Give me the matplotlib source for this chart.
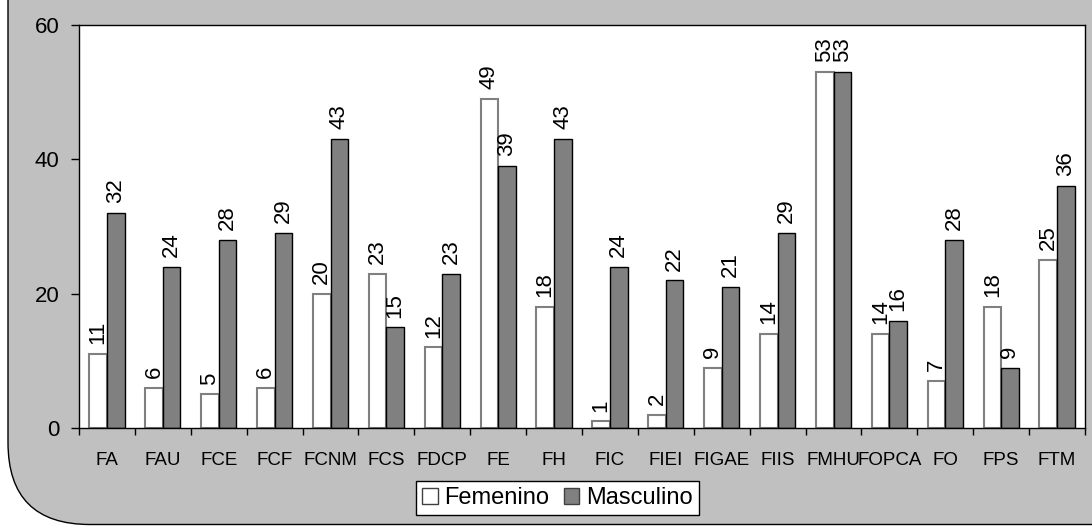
import matplotlib
matplotlib.use("Agg")
import numpy as np
import matplotlib.pyplot as plt
from matplotlib.patches import FancyBboxPatch, Patch

# data
categorias = ['FA', 'FAU', 'FCE', 'FCF', 'FCNM', 'FCS', 'FDCP', 'FE', 'FH', 'FIC',
              'FIEI', 'FIGAE', 'FIIS', 'FMHU', 'FOPCA', 'FO', 'FPS', 'FTM']
femenino = [11, 6, 5, 6, 20, 23, 12, 49, 18, 1, 2, 9, 14, 53, 14, 7, 18, 25]
masculino = [32, 24, 28, 29, 43, 15, 23, 39, 43, 24, 22, 21, 29, 53, 16, 28, 9, 36]
y_ticks = [0, 20, 40, 60]

plt.rcParams['font.family'] = ['Liberation Sans', 'DejaVu Sans']

fig = plt.figure(figsize=(10.92, 5.26), dpi=100)
W, H = 1092, 526

# grey rounded frame (cropped at top and right)
frame = FancyBboxPatch((8 / W, 1.5 / H), 1.2, 1.2,
                       boxstyle="round,pad=0,rounding_size=0.075",
                       transform=fig.transFigure, facecolor='#C0C0C0',
                       edgecolor='black', linewidth=1.0, zorder=-5,
                       mutation_aspect=W / H)
fig.patches.append(frame)

ax = fig.add_axes([79 / W, (H - 428) / H, (1085 - 79) / W, (428 - 25) / H])
ax.set_zorder(2)
ax.set_facecolor('white')

x = np.arange(len(categorias))
w = 0.316
b1 = ax.bar(x - w / 2, femenino, w, color='white', edgecolor='#808080',
            linewidth=1.5, label='Femenino', zorder=2)
b2 = ax.bar(x + w / 2, masculino, w, color='#808080', edgecolor='black',
            linewidth=1.0, label='Masculino', zorder=2)

for bars in (b1, b2):
    for bar in bars:
        h = bar.get_height()
        ax.annotate(f'{int(h)}', xy=(bar.get_x() + bar.get_width() / 2, h),
                    xytext=(0, 7), textcoords='offset points',
                    rotation=90, ha='center', va='bottom', fontsize=16,
                    annotation_clip=False)

ax.set_xlim(-0.5, len(categorias) - 0.5)
ax.set_ylim(0, 60)
ax.set_yticks(y_ticks)
ax.tick_params(axis='y', length=6, width=1, direction='out', pad=8, labelsize=16)

ax.set_xticks(x)
ax.set_xticklabels(categorias, fontsize=13.5)
ax.set_xticks(np.arange(len(categorias) + 1) - 0.5, minor=True)
ax.tick_params(axis='x', which='major', length=0, pad=17)
ax.tick_params(axis='x', which='minor', length=5, width=1, direction='out')

for s in ax.spines.values():
    s.set_color('black')
    s.set_linewidth(1.0)

handles = [Patch(facecolor='white', edgecolor='#404040', label='Femenino'),
           Patch(facecolor='#808080', edgecolor='#404040', label='Masculino')]
leg = fig.legend(handles=handles, loc='center', bbox_to_anchor=(557.5 / W, 28 / H),
                 ncol=2, fontsize=17, frameon=True, fancybox=False, framealpha=1,
                 handlelength=0.65, handleheight=0.65, handletextpad=0.3,
                 columnspacing=0.6, borderpad=0.25, borderaxespad=0)
leg.get_frame().set_edgecolor('black')
leg.get_frame().set_facecolor('white')
leg.get_frame().set_linewidth(1.0)
leg.set_zorder(3)

fig.savefig('out.png', dpi=100)
